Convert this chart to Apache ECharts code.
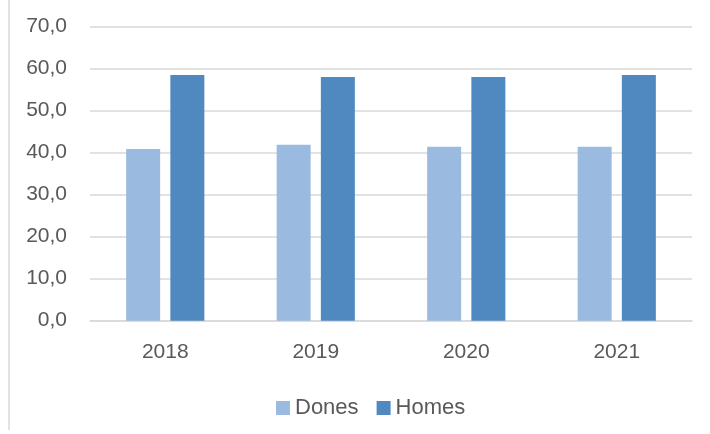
<!DOCTYPE html>
<html>
<head>
<meta charset="utf-8">
<script src="https://cdn.jsdelivr.net/npm/echarts@6/dist/echarts.min.js"></script>
<style>
html,body{margin:0;padding:0;background:#fff;}
#chart{width:710px;height:434px;}
</style>
</head>
<body>
<div id="chart"></div>
<script>
const categories = ['2018', '2019', '2020', '2021'];
const seriesNames = ['Dones', 'Homes'];
const dones = [40.9, 41.9, 41.4, 41.4];
const homes = [58.5, 58.0, 58.0, 58.5];
const yMin = 0, yMax = 70, yStep = 10;

const chart = echarts.init(document.getElementById('chart'), null, {renderer: 'canvas'});
const font = 'Liberation Sans';
const textColor = '#595959';
chart.setOption({
  animation: false,
  backgroundColor: '#ffffff',
  graphic: [{
    type: 'line',
    shape: {x1: 9, y1: 0, x2: 9, y2: 430},
    style: {stroke: '#d9d9d9', lineWidth: 1.5}
  }],
  grid: {left: 90, right: 18, top: 26.7, bottom: 113.3, containLabel: false},
  legend: {
    data: seriesNames,
    left: 271,
    top: 392,
    itemWidth: 14,
    itemHeight: 14,
    itemGap: 18,
    icon: 'rect',
    textStyle: {fontFamily: font, fontSize: 22, color: textColor}
  },
  xAxis: {
    type: 'category',
    data: categories,
    axisLine: {show: true, lineStyle: {color: '#d9d9d9', width: 1.5}},
    axisTick: {show: false},
    axisLabel: {fontFamily: font, fontSize: 21, color: textColor, margin: 21}
  },
  yAxis: {
    type: 'value',
    min: yMin, max: yMax, interval: yStep,
    axisLine: {show: false},
    axisTick: {show: false},
    splitLine: {lineStyle: {color: '#d9d9d9', width: 1.5}},
    axisLabel: {
      fontFamily: font, fontSize: 21, color: textColor, margin: 23,
      formatter: v => v.toFixed(1).replace('.', ',')
    }
  },
  series: [
    {name: seriesNames[0], type: 'bar', data: dones, barWidth: 34, barGap: '30%',
     itemStyle: {color: '#9bbae0'}},
    {name: seriesNames[1], type: 'bar', data: homes, barWidth: 34, barGap: '30%',
     itemStyle: {color: '#4f89c0'}}
  ]
});
</script>
</body>
</html>
